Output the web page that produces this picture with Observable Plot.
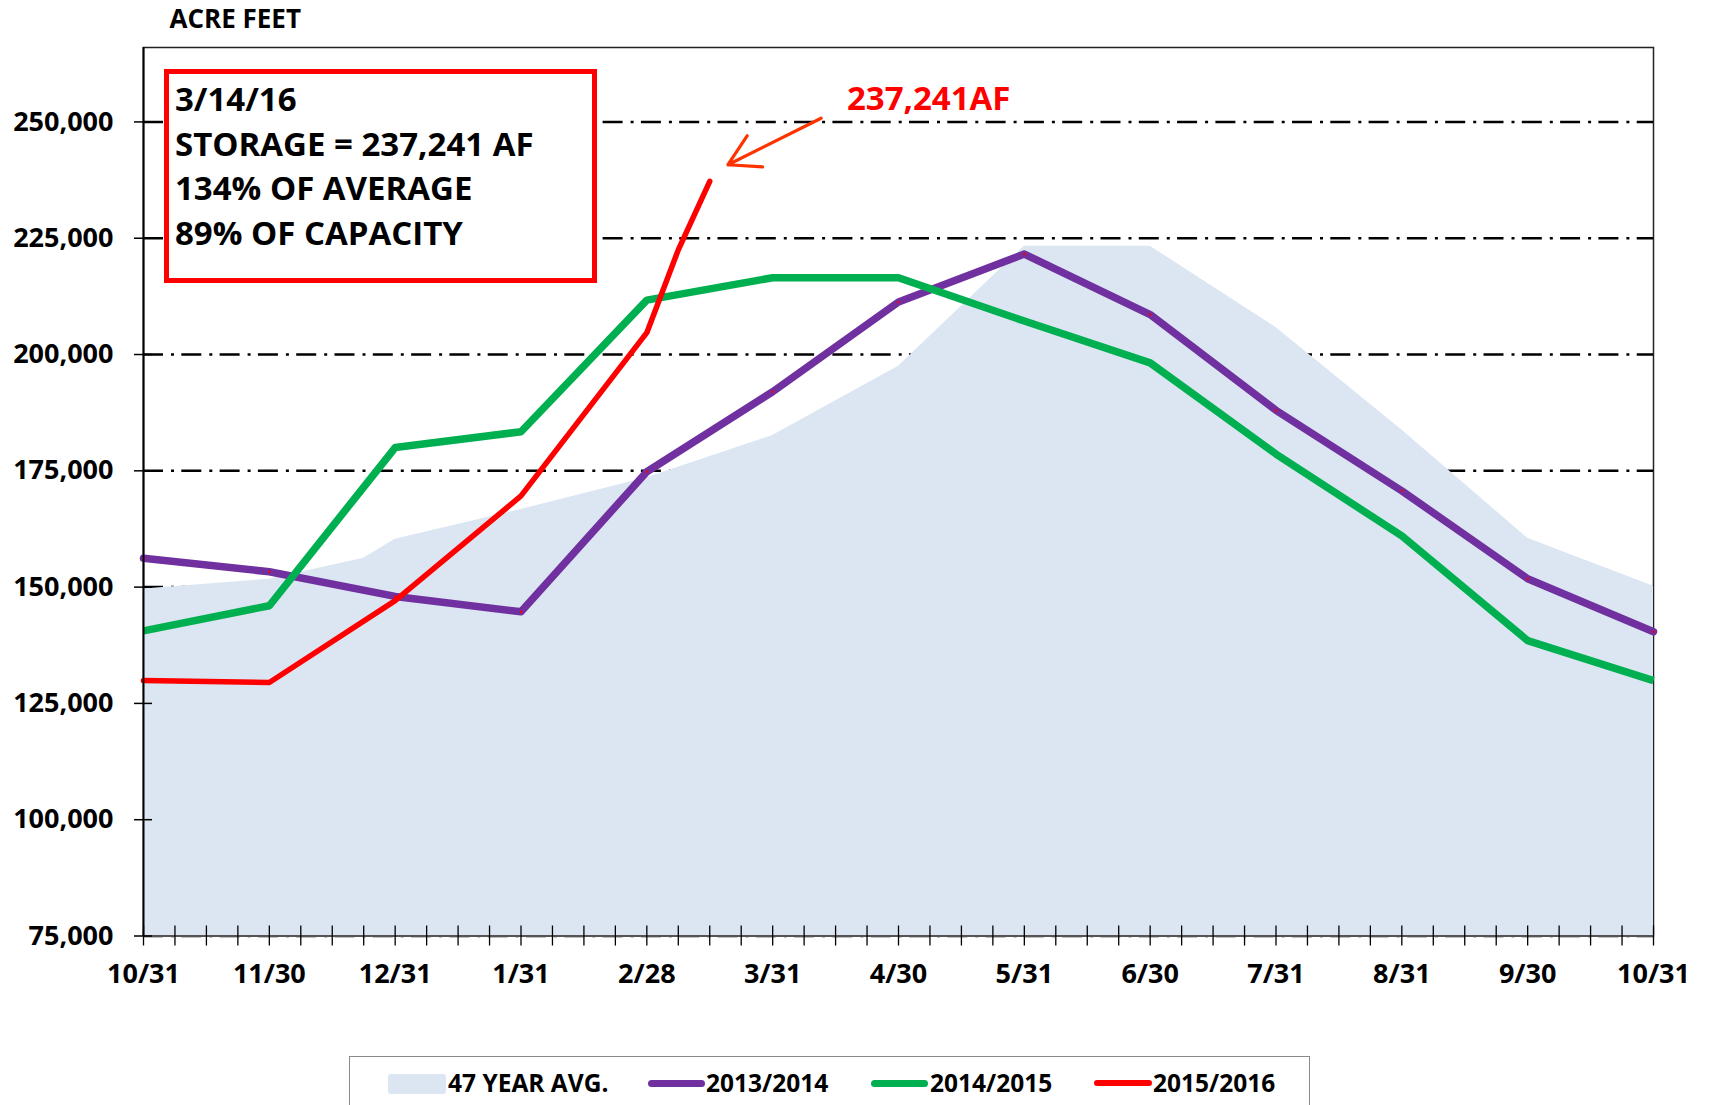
<!DOCTYPE html>
<html>
<head>
<meta charset="utf-8">
<script src="https://cdn.jsdelivr.net/npm/d3@7"></script>
<script src="https://cdn.jsdelivr.net/npm/@observablehq/plot@0.6"></script>
<style>
  body { margin: 0; background: #fff; font-family: "Open Sans", sans-serif; }
  #wrap { position: relative; width: 1711px; height: 1105px; overflow: hidden; background: #fff; }
  #chart { position: absolute; left: 0; top: 0; }
  #chart svg { max-width: none !important; }
  .abs { position: absolute; white-space: nowrap; font-weight: 700; color: #000; }
  #note { position: absolute; left: 164px; top: 69px; width: 433px; height: 214px; box-sizing: border-box; background: #fff;
          border: 5px solid #FF0000; padding: 3px 0 0 6px; font-size: 33px; line-height: 44.6px; font-weight: 700; }
  #legend { position: absolute; left: 349px; top: 1056px; width: 961px; height: 80px; box-sizing: border-box;
            border: 1.5px solid #8a8a8a; background: #fff; }
</style>
</head>
<body>
<div id="wrap">
  <div id="chart"></div>
  <div id="note"></div>
  <div id="legend"></div>
</div>
<script>
// ---------- data ----------
const monthLabels = ["10/31","11/30","12/31","1/31","2/28","3/31","4/30","5/31","6/30","7/31","8/31","9/30","10/31"];
const monthPos = [0,1,2,3,4,5,6,7,8,9,10,11,12];

const avgX      = [0, 1, 1.75, 2, 3, 4, 5, 6, 7, 8, 9, 10, 11, 12];
const avgValues = [149600, 151700, 156200, 160300, 166700, 173500, 182600, 197500, 223300, 223300, 205800, 183800, 160500, 150200];

const wy2014 = [156200, 153300, 148000, 144700, 174800, 192000, 211300, 221600, 208600, 188000, 170700, 151800, 140400];
const wy2015 = [140600, 146000, 180000, 183400, 211700, 216500, 216500, 207200, 198200, 178600, 161000, 138500, 129900];
const wy2016X = [0, 1, 2, 3, 4, 4.25, 4.5];
const wy2016  = [129900, 129500, 147100, 169600, 204700, 222500, 237241];

const yTicks = [75000, 100000, 125000, 150000, 175000, 200000, 225000, 250000];
const yDomain = [75000, 266000];

const seriesNames = ["47 YEAR AVG.", "2013/2014", "2014/2015", "2015/2016"];
const seriesColors = ["#DCE6F2", "#7030A0", "#00B050", "#FF0000"];

const noteLines = ["3/14/16", "STORAGE = 237,241 AF", "134% OF AVERAGE", "89% OF CAPACITY"];
const calloutLabel = [{x: 5.59, v: 254900, text: "237,241AF"}];
const calloutArrow = [{x1: 5.385, y1: 250800, x2: 4.645, y2: 240800}];

// ---------- layout ----------
const W = 1711, H = 1010, mL = 143, mR = 58, mT = 47, mB = 74.5;
const innerW = W - mL - mR, innerH = H - mT - mB;

const avgRows = avgX.map((x, i) => ({x, v: avgValues[i]}));
const rows2014 = monthPos.map((x, i) => ({x, v: wy2014[i]}));
const rows2015 = monthPos.map((x, i) => ({x, v: wy2015[i]}));
const rows2016 = wy2016X.map((x, i) => ({x, v: wy2016[i]}));
const quarterTicks = d3.range(0, 49).map(i => i / 4);

const chart = Plot.plot({
  width: W, height: H,
  marginLeft: mL, marginRight: mR, marginTop: mT, marginBottom: mB,
  style: {fontFamily: "'Open Sans', sans-serif", fontWeight: 700, color: "#000", background: "#fff", overflow: "visible"},
  x: {domain: [0, 12]},
  y: {domain: yDomain},
  marks: [
    Plot.frame({stroke: "#222", strokeWidth: 1.5}),
    Plot.ruleY(yTicks, {y: d => d, stroke: "#000", strokeWidth: 2.5, strokeDasharray: "20,8,3,7.3"}),
    Plot.areaY(avgRows, {x: "x", y1: yDomain[0], y2: "v", fill: seriesColors[0], curve: "linear"}),
    Plot.line(rows2014, {x: "x", y: "v", stroke: seriesColors[1], strokeWidth: 7.5, strokeLinejoin: "round", strokeLinecap: "round"}),
    Plot.dot(rows2014, {x: "x", y: "v", r: 1.2, fill: "#FF0000"}),
    Plot.line(rows2015, {x: "x", y: "v", stroke: seriesColors[2], strokeWidth: 7.5, strokeLinejoin: "round", strokeLinecap: "butt"}),
    Plot.line(rows2016, {x: "x", y: "v", stroke: seriesColors[3], strokeWidth: 5.5, strokeLinejoin: "round", strokeLinecap: "round"}),
    Plot.ruleX([0], {x: d => d, stroke: "#000", strokeWidth: 2}),
    Plot.ruleY([yDomain[0]], {y: d => d, stroke: "#555", strokeWidth: 2}),
    Plot.tickX(quarterTicks, {x: d => d, insetTop: innerH - 10, insetBottom: -10, stroke: "#000", strokeWidth: 1.3}),
    Plot.tickY(yTicks, {y: d => d, insetLeft: -9, insetRight: innerW - 9, stroke: "#000", strokeWidth: 1.5}),
    Plot.axisY(yTicks, {tickSize: 0, tickPadding: 30, tickFormat: d3.format(","), fontSize: 27, fontWeight: 700, fill: "#000"}),
    Plot.axisX(monthPos, {tickSize: 0, tickPadding: 28, tickFormat: i => monthLabels[i], fontSize: 27, fontWeight: 700, fill: "#000"}),
    Plot.arrow(calloutArrow, {x1: "x1", y1: "y1", x2: "x2", y2: "y2", stroke: "#FF3300", strokeWidth: 3.2, headLength: 20, bend: 0}),
    Plot.text(calloutLabel, {x: "x", y: "v", text: "text", fill: "#FF0000", fontSize: 33, fontWeight: 700, textAnchor: "start"}),
    Plot.text(["ACRE FEET"], {frameAnchor: "top-left", dx: 26, dy: -37.5, textAnchor: "start", fontSize: 26, fontWeight: 700, fill: "#000"})
  ]
});
document.getElementById("chart").appendChild(chart);

// ---------- note box ----------
const note = document.getElementById("note");
noteLines.forEach(t => { const d = document.createElement("div"); d.textContent = t; note.appendChild(d); });

// ---------- legend ----------
const legend = document.getElementById("legend");
const lg = [
  {sx: 38, sw: 58, text: 98, kind: "area"},
  {sx: 647 - 349, sw: 57, text: 705 - 349, kind: "line"},
  {sx: 870 - 349, sw: 57, text: 929 - 349, kind: "line"},
  {sx: 1093 - 349, sw: 58, text: 1152 - 349, kind: "line"}
];
const cy = 1082.5 - 1056;
lg.forEach((o, i) => {
  const s = document.createElement("div");
  s.style.position = "absolute";
  s.style.left = o.sx + "px";
  s.style.width = o.sw + "px";
  if (o.kind === "area") {
    s.style.top = (cy - 10) + "px"; s.style.height = "20px"; s.style.borderRadius = "3px";
  } else {
    s.style.top = (cy - 3.5) + "px"; s.style.height = (i === 3 ? 6 : 7) + "px"; s.style.borderRadius = "4px";
  }
  s.style.background = seriesColors[i];
  legend.appendChild(s);
  const t = document.createElement("div");
  t.className = "abs";
  t.textContent = seriesNames[i];
  t.style.left = o.text + "px";
  t.style.fontSize = "24.5px";
  t.style.lineHeight = "30px";
  t.style.top = (cy - 16) + "px";
  legend.appendChild(t);
});
</script>
</body>
</html>
